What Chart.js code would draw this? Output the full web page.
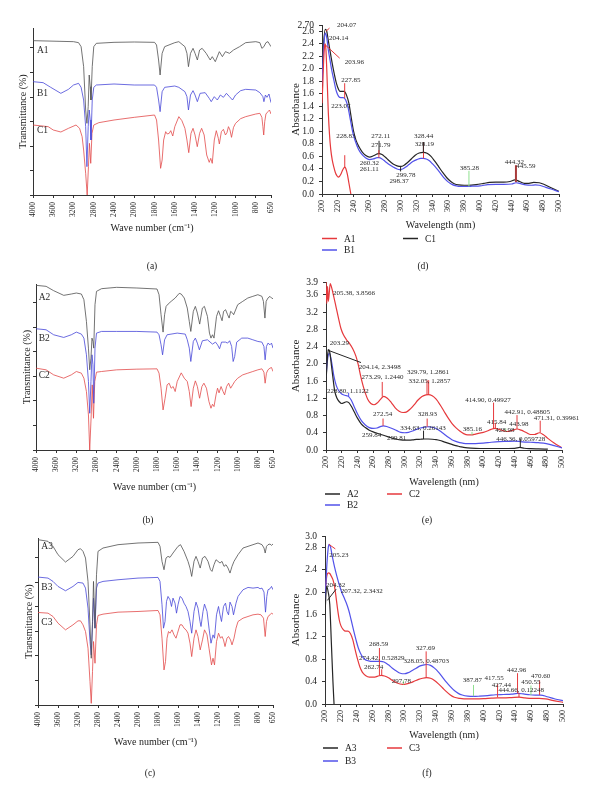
<!DOCTYPE html>
<html>
<head>
<meta charset="utf-8">
<script src="https://cdn.jsdelivr.net/npm/chart.js@4"></script>
<style>
  body { margin: 0; background: #fff; width: 600px; height: 800px; position: relative; overflow: hidden; }
  canvas { position: absolute; }
  .cap { position: absolute; font: 9.5px "Liberation Serif", serif; color: #222; transform: translate(-50%, -50%); }
</style>
</head>
<body>
<canvas id="ca" width="290" height="255" style="left:0;top:0"></canvas>
<canvas id="cd" width="310" height="258" style="left:290px;top:0"></canvas>
<canvas id="cb" width="290" height="255" style="left:0;top:255px"></canvas>
<canvas id="ce" width="310" height="255" style="left:290px;top:258px"></canvas>
<canvas id="cc" width="290" height="290" style="left:0;top:510px"></canvas>
<canvas id="cf" width="310" height="287" style="left:290px;top:513px"></canvas>
<div class="cap" style="left:152px;top:266px">(a)</div>
<div class="cap" style="left:148px;top:520px">(b)</div>
<div class="cap" style="left:150px;top:773px">(c)</div>
<div class="cap" style="left:423px;top:266px">(d)</div>
<div class="cap" style="left:427px;top:520px">(e)</div>
<div class="cap" style="left:427px;top:773px">(f)</div>
<script>
// FTIR tick labels (cm-1) and UV tick labels
const irTicks = [4000, 3600, 3200, 2800, 2400, 2000, 1800, 1600, 1400, 1200, 1000, 800, 650];
const uvTicks = [200, 220, 240, 260, 280, 300, 320, 340, 360, 380, 400, 420, 440, 460, 480, 500];
const dTicks = [0, 0.2, 0.4, 0.6, 0.8, 1.0, 1.2, 1.4, 1.6, 1.8, 2.0, 2.2, 2.4, 2.6, 2.7];
const dLabels = ['0.0', '0.2', '0.4', '0.6', '0.8', '1.0', '1.2', '1.4', '1.6', '1.8', '2.0', '2.2', '2.4', '2.6', '2.70'];
const eTicks = [0, 0.4, 0.8, 1.2, 1.6, 2.0, 2.4, 2.8, 3.2, 3.6, 3.9];
const fTicks = [0, 0.4, 0.8, 1.2, 1.6, 2.0, 2.4, 2.8, 3.0];

// FTIR spectra: [wave number, transmittance (offset %)]
const irA1 = [[4000,92.6],[3200,92],[3100,91.4],[3050,89],[3000,77],[2960,51],[2935,43],[2910,53],[2890,72],[2870,65],[2855,57],[2830,77],[2800,89],[2750,91],[2400,91.6],[2000,91.8],[1800,91.6],[1780,90],[1760,81],[1745,72],[1725,85],[1700,89],[1600,91.4],[1560,92],[1500,89],[1480,85],[1465,77],[1445,85],[1420,88],[1400,85],[1377,81],[1355,87],[1330,88],[1290,85],[1250,81],[1230,83],[1200,80],[1160,86],[1130,83],[1100,86],[1060,85],[1020,87],[960,89],[900,91.4],[800,92],[760,91.4],[740,88],[720,89],[700,91.4],[680,92],[650,89]];
const irB1 = [[4000,68],[3800,67.4],[3650,64.6],[3450,61],[3300,63.4],[3200,66],[3100,67],[3050,64.6],[3000,57],[2960,41],[2935,17],[2910,41],[2890,51],[2870,45],[2855,33],[2830,57],[2800,64.6],[2750,66],[2400,66.6],[2000,66],[1800,66],[1780,64.6],[1760,57],[1745,50],[1725,62],[1700,64.6],[1600,65.4],[1560,64.6],[1500,62],[1480,59],[1465,51],[1445,60],[1420,62.6],[1400,60],[1377,56],[1350,61],[1300,61.4],[1260,58],[1240,56],[1210,59],[1180,57],[1150,60],[1120,58.6],[1090,61],[1060,59],[1030,57],[1000,60],[950,62.6],[900,63.4],[800,63],[760,61.4],[730,59],[720,56],[705,60],[690,58.6],[670,60.6],[650,55.4]];
const irC1 = [[4000,42],[3700,41],[3600,39],[3450,37.8],[3300,40],[3150,42],[3080,40],[3030,35],[3000,27],[2960,13],[2930,0],[2905,17],[2885,31],[2860,19],[2835,37],[2800,42],[2700,43.4],[2400,45],[2000,46.6],[1800,48],[1780,45],[1760,33],[1740,16],[1725,21],[1710,33],[1690,38],[1675,36.6],[1655,37],[1640,38.6],[1620,35.4],[1600,41],[1560,47],[1530,44.6],[1500,40],[1480,33],[1462,25.4],[1440,37],[1420,40],[1400,36],[1378,29],[1355,37],[1335,40],[1310,36],[1285,24],[1260,19.6],[1245,22],[1230,19],[1210,33],[1190,38.6],[1170,34],[1160,30.6],[1140,38],[1120,39.4],[1100,36],[1085,37.4],[1070,41],[1055,39],[1040,34.6],[1020,40.6],[1000,43],[950,45.8],[900,47],[800,48.6],[760,49],[740,46.6],[730,41],[722,36],[712,44],[700,48.6],[680,50],[665,51],[650,48.6]];

const irA2 = [[4000,98.6],[3800,98],[3650,95.4],[3450,92.6],[3300,93.4],[3200,94],[3100,93.4],[3050,90],[3000,77],[2960,61],[2935,48],[2910,55],[2890,67],[2870,65],[2855,61],[2830,87],[2800,95],[2700,96.6],[2400,97.4],[2000,97],[1800,96.4],[1780,93],[1760,81],[1740,70.6],[1725,81],[1710,86],[1690,87.4],[1660,89],[1620,91],[1580,93.8],[1560,93.4],[1530,91],[1500,85],[1480,77],[1465,71],[1440,83],[1420,86],[1400,82],[1377,75.4],[1350,85],[1330,86],[1300,80],[1280,70],[1265,67],[1250,69],[1235,67],[1210,80],[1190,83.4],[1170,80],[1155,77.4],[1140,83],[1120,84],[1100,81],[1085,79],[1070,83],[1050,82],[1040,81],[1000,87],[950,89],[900,91],[850,92],[800,93],[760,92],[745,89],[730,79],[718,89],[700,91],[680,92],[665,91],[650,90.6]];
const irB2 = [[4000,72.6],[3800,72],[3650,69],[3450,67.4],[3300,69],[3200,70.6],[3100,69.4],[3050,67],[3000,57],[2960,41],[2935,22],[2910,41],[2890,57],[2870,51],[2855,28],[2830,61],[2800,70],[2700,71],[2400,71],[2000,71],[1800,70.6],[1780,69],[1760,63],[1745,57],[1725,66],[1700,69],[1600,70],[1520,69.4],[1500,66],[1480,61],[1465,53],[1440,65],[1420,67],[1400,64],[1380,60],[1350,65.4],[1300,66],[1250,63.4],[1220,64.6],[1200,63],[1180,60.6],[1160,64.6],[1120,64.6],[1100,64],[1080,65.4],[1060,62],[1045,53],[1030,56],[1010,64.6],[960,67],[900,67],[850,66],[800,65],[760,64.6],[740,62],[728,54],[715,62],[700,64],[680,63],[665,64],[650,61]];
const irC2 = [[4000,49],[3800,48],[3650,45],[3450,43],[3300,45],[3200,47],[3100,46],[3050,43],[3000,35],[2960,21],[2935,0],[2905,21],[2885,39],[2860,19],[2835,41],[2800,46.6],[2700,47],[2400,48],[2000,48.4],[1800,48.6],[1780,46],[1760,37],[1740,24],[1720,31],[1700,39],[1680,40],[1660,37],[1640,38],[1620,35],[1600,41],[1560,46.2],[1530,43],[1500,41],[1480,35],[1462,26],[1440,37],[1420,41.4],[1400,38],[1378,31],[1355,38],[1335,40],[1310,37],[1285,29],[1265,25],[1250,27.4],[1235,26],[1215,33],[1200,37],[1185,34.2],[1165,38],[1145,35],[1130,33],[1110,38],[1090,40],[1070,37],[1050,39],[1030,41],[1000,43],[950,45],[900,46],[850,47],[800,48],[760,48.6],[740,46.6],[728,40],[715,46],[700,48],[680,49],[665,49.4],[650,47]];

const irA3 = [[4000,99],[3800,98],[3700,95],[3600,90],[3450,85.6],[3300,89],[3200,93],[3150,93.6],[3100,92],[3050,88],[3000,74],[2960,48],[2935,28],[2910,50],[2890,74],[2860,46],[2830,78],[2800,92],[2700,94],[2400,96],[2000,97],[1800,97.4],[1780,95],[1760,86],[1740,81],[1720,88],[1700,89],[1680,88.4],[1650,91],[1600,95],[1575,96],[1540,92],[1500,86],[1480,82],[1463,77],[1440,86],[1420,89],[1400,86],[1378,82],[1355,88],[1330,89],[1300,86],[1275,81],[1260,80],[1240,84],[1220,87],[1200,86],[1180,85],[1160,86],[1140,83],[1120,84],[1100,82],[1080,79],[1060,83],[1040,86],[1000,90],[950,94],[900,95],[850,96],[800,97],[760,96],[740,94],[728,91],[715,95],[700,96],[680,96.4],[665,95.6],[650,96.4]];
const irB3 = [[4000,76.6],[3800,76],[3700,74],[3600,71],[3450,68.4],[3300,71],[3200,73.4],[3100,73],[3050,70],[3000,58],[2960,38],[2935,30],[2910,48],[2890,64],[2860,46],[2830,70],[2800,73],[2700,74],[2400,75],[2000,76],[1800,76.4],[1780,74],[1760,60],[1745,46],[1730,50],[1715,62],[1700,65],[1680,63],[1665,59],[1650,64],[1630,61],[1615,55],[1600,60],[1580,65],[1560,64],[1540,61],[1520,59],[1500,56],[1480,50],[1463,43],[1440,56],[1420,61.6],[1400,58],[1380,50],[1370,47],[1350,56],[1335,60.4],[1310,56],[1290,46],[1270,37],[1250,42],[1235,40],[1215,54],[1195,59],[1180,54],[1165,50],[1145,59],[1125,61],[1110,56],[1095,54],[1080,61.6],[1060,59],[1045,54],[1020,61],[1000,65],[950,69],[900,70.4],[850,70],[800,70.4],[780,69.6],[760,70],[740,67.6],[725,55.6],[712,65],[700,69],[680,69.6],[665,71],[650,69]];
const irC3 = [[4000,55.4],[3800,55],[3700,53],[3600,49],[3450,45],[3300,48],[3200,50.4],[3150,50.4],[3100,48],[3050,44],[3000,34],[2960,14],[2935,1],[2910,20],[2890,38],[2860,25],[2830,48],[2800,53.6],[2700,54.4],[2400,55.6],[2000,56],[1800,56.6],[1780,54],[1760,40],[1740,21],[1725,26],[1710,40],[1695,44],[1680,43],[1660,45],[1640,42],[1620,40],[1605,43],[1580,48],[1560,48],[1540,46],[1520,45],[1500,43],[1480,37],[1463,29],[1440,40],[1420,45],[1400,41],[1378,33],[1355,39],[1335,45],[1310,42],[1290,34],[1265,24],[1250,28],[1235,24],[1215,38],[1195,43],[1175,40],[1160,41],[1145,39],[1130,35],[1110,40],[1095,41],[1075,39],[1060,36],[1040,40],[1020,46],[1000,50],[950,52],[900,53],[850,54],[800,54.4],[770,54],[745,52],[728,41],[715,50],[700,53],[680,54],[665,55],[650,54.4]];

// UV-vis spectra: [wavelength nm, absorbance]
const uvA1 = [[200,1.45],[201,1.75],[202,2.1],[203,2.33],[204,2.4],[205,2.3],[206,2.0],[207,1.65],[208,1.3],[209.5,0.95],[211,0.72],[213,0.54],[215,0.43],[217,0.34],[219,0.29],[220.5,0.27],[222,0.28],[224,0.32],[226,0.38],[228,0.42],[229,0.43],[230,0.41],[232,0.32],[234,0.18],[236.5,0]];
const uvB1 = [[200,1.75],[202,2.3],[204,2.57],[206,2.5],[208,2.3],[210,2.15],[212,2.0],[215,1.82],[218,1.65],[221,1.56],[224,1.54],[227,1.54],[230,1.5],[233,1.38],[236,1.18],[239,0.98],[242,0.85],[246,0.72],[250,0.64],[255,0.58],[260,0.55],[265,0.56],[270,0.58],[272,0.58],[276,0.56],[280,0.52],[285,0.47],[290,0.43],[295,0.4],[298.4,0.39],[302,0.4],[306,0.43],[310,0.47],[315,0.52],[320,0.55],[325,0.57],[328.2,0.57],[332,0.56],[336,0.53],[340,0.48],[345,0.41],[350,0.33],[355,0.25],[360,0.19],[365,0.15],[370,0.13],[375,0.12],[380,0.12],[385,0.12],[390,0.125],[400,0.13],[410,0.15],[420,0.155],[430,0.155],[440,0.16],[445.6,0.18],[450,0.17],[458,0.145],[465,0.14],[470,0.145],[475,0.14],[480,0.12],[490,0.08],[500,0.035]];
const uvC1 = [[200,1.85],[202,2.4],[204.07,2.63],[206,2.6],[208,2.45],[210,2.3],[212,2.15],[215,1.95],[218,1.78],[221,1.67],[223,1.64],[226,1.64],[228,1.64],[231,1.58],[234,1.45],[237,1.22],[240,1.0],[243,0.86],[247,0.75],[251,0.67],[255,0.62],[260.3,0.59],[265,0.61],[270,0.64],[272,0.645],[276,0.63],[280,0.59],[285,0.53],[290,0.48],[295,0.45],[299.8,0.44],[304,0.46],[308,0.5],[313,0.56],[318,0.62],[323,0.655],[328.4,0.665],[333,0.65],[338,0.6],[343,0.52],[348,0.43],[353,0.34],[358,0.26],[363,0.2],[368,0.16],[373,0.145],[380,0.14],[385,0.14],[395,0.15],[405,0.17],[412,0.185],[420,0.19],[430,0.19],[438,0.2],[444.3,0.225],[450,0.2],[456,0.17],[462,0.17],[468,0.185],[475,0.18],[480,0.16],[490,0.1],[500,0.04]];

const uvA2 = [[200,1.6],[201,1.9],[202,2.2],[203.3,2.33],[205,2.25],[207,1.95],[209,1.65],[211,1.38],[214,1.2],[217,1.12],[220,1.08],[223,1.1],[226,1.12],[229,1.1],[232,1.02],[236,0.88],[240,0.74],[245,0.6],[250,0.52],[255,0.46],[260,0.42],[265,0.39],[270,0.36],[275,0.33],[280,0.3],[285,0.27],[290,0.25],[295,0.235],[300,0.23],[305,0.23],[310,0.235],[315,0.245],[320,0.25],[325,0.255],[330,0.255],[335,0.25],[340,0.24],[345,0.22],[350,0.19],[355,0.16],[360,0.13],[365,0.1],[370,0.08],[375,0.06],[380,0.05],[390,0.04],[400,0.035],[420,0.035],[440,0.04],[446.4,0.06],[452,0.04],[460,0.03],[470,0.025],[482,0.02]];
const uvB2 = [[200,1.7],[202,2.1],[204.1,2.25],[206,2.15],[208,1.95],[210,1.72],[213,1.5],[216,1.38],[220,1.3],[224,1.27],[228.8,1.24],[232,1.16],[236,1.0],[240,0.84],[245,0.68],[250,0.58],[255,0.52],[259.8,0.5],[265,0.51],[270,0.55],[273,0.56],[278,0.54],[284,0.5],[290,0.45],[295,0.41],[300,0.4],[305,0.41],[310,0.44],[315,0.48],[320,0.51],[325,0.53],[329,0.54],[334,0.53],[340,0.5],[345,0.44],[350,0.37],[355,0.3],[360,0.24],[365,0.2],[370,0.17],[375,0.155],[380,0.15],[390,0.15],[400,0.16],[410,0.18],[420,0.195],[430,0.2],[440,0.205],[445,0.2],[450,0.19],[460,0.18],[470,0.17],[480,0.15],[490,0.1],[500,0.05]];
const uvC2 = [[200,3.9],[201,3.4],[202,3.8],[203,3.45],[205.4,3.86],[207,3.78],[210,3.55],[213,3.3],[216,3.05],[219,2.82],[222,2.68],[226,2.56],[230,2.47],[234,2.35],[238,2.18],[241,1.98],[244,1.72],[247,1.5],[250,1.32],[253,1.18],[257,1.08],[261,1.05],[265,1.09],[269,1.17],[273.3,1.244],[278,1.2],[283,1.1],[288,0.98],[293,0.9],[298,0.87],[302,0.88],[307,0.95],[312,1.05],[317,1.16],[322,1.24],[327,1.28],[330,1.286],[335,1.26],[340,1.18],[345,1.05],[350,0.9],[355,0.75],[360,0.62],[365,0.52],[370,0.44],[375,0.38],[380,0.35],[385,0.35],[390,0.37],[395,0.39],[400,0.41],[405,0.44],[410,0.48],[414.9,0.5],[420,0.48],[425,0.45],[430,0.43],[436,0.45],[442.9,0.488],[448,0.46],[455,0.4],[460,0.36],[465,0.36],[471.3,0.4],[476,0.36],[482,0.27],[490,0.16],[500,0.05]];

const uvA3 = [[200,1.6],[202,2.1],[204,2.0],[206,1.78],[208,1.1],[210,0.4],[211.4,0]];
const uvB3 = [[200,1.75],[202,2.4],[204,2.78],[205.2,2.85],[207,2.8],[209,2.65],[212,2.45],[215,2.28],[218,2.13],[221,2.0],[224,1.9],[227,1.8],[230,1.67],[233,1.5],[236,1.32],[239,1.15],[242,1.0],[246,0.87],[250,0.8],[255,0.77],[260,0.76],[265,0.76],[270,0.76],[274.4,0.75],[280,0.7],[285,0.64],[290,0.59],[295,0.55],[300,0.54],[305,0.56],[310,0.6],[315,0.64],[320,0.68],[325,0.7],[328,0.705],[333,0.69],[338,0.64],[343,0.57],[348,0.48],[353,0.39],[358,0.31],[363,0.24],[368,0.19],[373,0.16],[380,0.14],[387.9,0.135],[395,0.14],[405,0.15],[415,0.165],[425,0.17],[435,0.175],[443,0.19],[450,0.18],[458,0.165],[465,0.16],[472,0.16],[480,0.13],[490,0.09],[500,0.06]];
const uvC3 = [[200,1.8],[201,2.1],[202.5,2.3],[204.3,2.34],[206,2.33],[208,2.28],[210,2.22],[212,2.1],[214,1.9],[216,1.68],[218,1.5],[220,1.4],[223,1.33],[226,1.3],[229,1.3],[232,1.26],[235,1.15],[238,0.97],[241,0.8],[244,0.66],[247,0.57],[251,0.51],[256,0.48],[262.7,0.48],[268,0.505],[271,0.51],[275,0.5],[280,0.47],[285,0.42],[290,0.38],[297.8,0.35],[303,0.36],[308,0.38],[313,0.41],[318,0.44],[323,0.46],[328,0.47],[333,0.46],[338,0.42],[343,0.36],[348,0.29],[353,0.22],[358,0.16],[363,0.12],[370,0.1],[380,0.09],[390,0.09],[400,0.095],[410,0.105],[417.5,0.11],[425,0.11],[435,0.115],[444.7,0.122],[452,0.11],[460,0.1],[470,0.1],[478,0.09],[488,0.06],[500,0.03]];

const RED = '#e6393c', BLUE = '#5252ea', BLACK = '#262626', GREEN = '#8fe08f', BROWN = '#a83a3a';
const IR_COL = ['#505050', '#4646d8', '#e24a4a'];

Chart.defaults.font.family = '"Liberation Serif", "Times New Roman", serif';
Chart.defaults.color = '#222';

// FTIR axis is compressed above 2000 cm-1
function irPos(w) { return w >= 2000 ? (4000 - w) / 400 : 5 + (2000 - w) / 200; }

// draws peak marks, peak labels and the legend keys
function extras(segs, texts, keys, xf, font) {
  return {
    id: 'extras',
    afterDatasetsDraw(chart) {
      const ctx = chart.ctx, x = chart.scales.x, y = chart.scales.y;
      const px = v => x.getPixelForValue(xf(v));
      ctx.save();
      segs.forEach(s => {
        ctx.strokeStyle = s[4];
        ctx.lineWidth = s[5] || 1;
        ctx.beginPath();
        ctx.moveTo(px(s[0]), y.getPixelForValue(s[1]));
        ctx.lineTo(px(s[2]), y.getPixelForValue(s[3]));
        ctx.stroke();
      });
      ctx.fillStyle = '#2a2a2a';
      ctx.font = font;
      ctx.textBaseline = 'middle';
      texts.forEach(t => ctx.fillText(t[2], px(t[0]), y.getPixelForValue(t[1])));
      keys.forEach((k, i) => {
        const ds = chart.data.datasets[i];
        ctx.strokeStyle = ds.borderColor;
        ctx.lineWidth = 1.5;
        ctx.beginPath();
        ctx.moveTo(k[0], k[1]);
        ctx.lineTo(k[0] + 15, k[1]);
        ctx.stroke();
        ctx.font = '9.5px "Liberation Serif", serif';
        ctx.fillStyle = '#222';
        ctx.fillText(ds.label, k[0] + 22, k[1] + 0.5);
      });
      ctx.restore();
    }
  };
}

function axis(extra) {
  return Object.assign({
    border: { display: true, color: '#333', width: 1 },
    grid: { drawOnChartArea: false, drawTicks: true, tickLength: 3, color: '#333' }
  }, extra);
}

function irChart(id, series, names, labels, box) {
  new Chart(document.getElementById(id), {
    type: 'line',
    data: {
      datasets: series.map((s, i) => ({
        label: names[i],
        data: s.map(p => ({ x: irPos(p[0]), y: p[1] })),
        borderColor: IR_COL[i], borderWidth: 0.8, pointRadius: 0, tension: 0
      }))
    },
    options: {
      responsive: false, animation: false, devicePixelRatio: 1,
      layout: { padding: { left: box.padL, top: box.padT, right: box.padR, bottom: box.padB } },
      plugins: { legend: { display: false }, tooltip: { enabled: false } },
      scales: {
        x: axis({
          type: 'linear', min: 0, max: 11.75,
          afterBuildTicks: s => { s.ticks = irTicks.map(w => ({ value: irPos(w) })); },
          afterFit: s => { s.height = box.xH; },
          ticks: { autoSkip: false, minRotation: 90, maxRotation: 90, padding: 4, font: { size: 7.5 },
                   callback: (v, i) => String(irTicks[i]) },
          title: { display: true, text: 'Wave number (cm\u207B\u00B9)', font: { size: 10 }, padding: 0 }
        }),
        y: axis({
          min: 0, max: box.yMax,
          afterBuildTicks: s => { s.ticks = [0, 14.7, 29.4, 44.1, 58.8, 73.5, 88.2].map(v => ({ value: v })); },
          afterFit: s => { s.width = box.yW; },
          ticks: { display: false },
          title: { display: true, text: 'Transmittance (%)', font: { size: 10 }, padding: 0 }
        })
      }
    },
    plugins: [extras([], labels, [], irPos, '9.5px "Liberation Serif", serif')]
  });
}

function uvChart(id, series, names, colors, yTicks, yLabels, box, segs, texts, keys) {
  new Chart(document.getElementById(id), {
    type: 'line',
    data: {
      datasets: series.map((s, i) => ({
        label: names[i],
        data: s.map(p => ({ x: p[0], y: p[1] })),
        borderColor: colors[i], borderWidth: 1.2, pointRadius: 0, cubicInterpolationMode: 'monotone'
      }))
    },
    options: {
      responsive: false, animation: false, devicePixelRatio: 1,
      layout: { padding: { left: box.padL, top: box.padT, right: box.padR, bottom: box.padB } },
      plugins: { legend: { display: false }, tooltip: { enabled: false } },
      scales: {
        x: axis({
          type: 'linear', min: 200, max: 500,
          afterBuildTicks: s => { s.ticks = uvTicks.map(v => ({ value: v })); },
          afterFit: s => { s.height = box.xH; },
          ticks: { autoSkip: false, minRotation: 90, maxRotation: 90, padding: 3, font: { size: 8 },
                   callback: (v, i) => String(uvTicks[i]) },
          title: { display: true, text: 'Wavelength (nm)', font: { size: 10 }, padding: 0 }
        }),
        y: axis({
          min: 0, max: yTicks[yTicks.length - 1],
          afterBuildTicks: s => { s.ticks = yTicks.map(v => ({ value: v })); },
          afterFit: s => { s.width = box.yW; },
          ticks: { autoSkip: false, padding: 5, font: { size: 9.5 },
                   callback: (v, i) => yLabels ? yLabels[i] : yTicks[i].toFixed(1) },
          title: { display: true, text: 'Absorbance', font: { size: 11 }, padding: 0 }
        })
      }
    },
    plugins: [extras(segs, texts, keys, v => v, '7px "Liberation Serif", serif')]
  });
}

// (a)
irChart('ca', [irA1, irB1, irC1], ['A1', 'B1', 'C1'],
  [[3921, 87, 'A1'], [3921, 61, 'B1'], [3921, 39, 'C1']],
  { padL: 17, yW: 16, padT: 28, padR: 19, xH: 39, padB: 21, yMax: 100.2 });
// (b)
irChart('cb', [irA2, irB2, irC2], ['A2', 'B2', 'C2'],
  [[3947, 91.4, 'A2'], [3947, 66.6, 'B2'], [3947, 44.6, 'C2']],
  { padL: 21, yW: 15, padT: 29, padR: 17, xH: 43, padB: 17, yMax: 99.4 });
// (c)
irChart('cc', [irA3, irB3, irC3], ['A3', 'B3', 'C3'],
  [[3933, 95, 'A3'], [3933, 70.4, 'B3'], [3933, 49.6, 'C3']],
  { padL: 23, yW: 15, padT: 28, padR: 17, xH: 43, padB: 52, yMax: 100 });

// (d)
uvChart('cd', [uvA1, uvB1, uvC1], ['A1', 'B1', 'C1'], [RED, BLUE, BLACK], dTicks, dLabels,
  { padL: 0, yW: 32, padT: 25, padR: 41, xH: 37, padB: 27 },
  [[203.5, 2.39, 222.4, 2.17, RED], [205, 2.6, 209.5, 2.65, RED], [228.7, 1.53, 228.7, 1.77, RED],
   [228.8, 0.42, 228.8, 0.62, RED], [272.2, 0.64, 272.2, 0.85, BLACK], [272, 0.58, 272, 0.7, RED],
   [299.5, 0.44, 299.5, 0.36, BLACK], [328.5, 0.57, 328.5, 0.83, RED], [328.3, 0.66, 328.3, 0.83, BLACK],
   [386, 0.12, 386, 0.37, GREEN], [445.5, 0.19, 445.5, 0.46, BROWN, 2]],
  [[219, 2.70, '204.07'], [208.9, 2.49, '204.14'], [228.7, 2.10, '203.96'], [224.5, 1.82, '227.85'],
   [211.8, 1.40, '223.07'], [218.1, 0.92, '228.83'], [262.4, 0.93, '272.11'], [262.4, 0.78, '271.79'],
   [247.7, 0.49, '260.32'], [247.7, 0.39, '261.11'], [294, 0.30, '299.78'], [285.6, 0.21, '298.37'],
   [316.5, 0.93, '328.44'], [317.3, 0.80, '328.19'], [374.3, 0.41, '385.28'], [431.2, 0.51, '444.32'],
   [446, 0.44, '445.59']],
  [[32, 238.5], [32, 250], [113, 238.5]]);

// (e)
uvChart('ce', [uvA2, uvB2, uvC2], ['A2', 'B2', 'C2'], [BLACK, BLUE, RED], eTicks, null,
  { padL: 0, yW: 36, padT: 24, padR: 38, xH: 38, padB: 25 },
  [[202, 2.32, 244.5, 2.03, BLACK], [271.5, 1.24, 271.5, 1.58, RED], [328.4, 1.28, 328.4, 1.62, RED],
   [330.5, 1.28, 330.5, 1.62, RED], [228.8, 1.24, 228.8, 1.33, BLUE], [272.5, 0.56, 272.5, 0.73, RED],
   [328.6, 0.54, 328.6, 0.73, RED], [324, 0.255, 324, 0.45, BLACK], [385.6, 0.35, 385.6, 0.42, GREEN],
   [413, 0.49, 413, 1.1, RED], [415.3, 0.5, 415.3, 0.63, RED], [428.5, 0.43, 428.5, 0.5, GREEN],
   [442.8, 0.49, 442.8, 0.81, RED], [472.3, 0.4, 472.3, 0.68, RED], [447, 0.06, 447, 0.27, BLACK]],
  [[208.9, 3.65, '205.38, 3.8566'], [204.7, 2.47, '203.29'], [241.5, 1.93, '204.14, 2.3498'],
   [245, 1.68, '273.29, 1.2440'], [303, 1.81, '329.79, 1.2861'], [305, 1.60, '332.05, 1.2857'],
   [201.3, 1.37, '228.80, 1.1122'], [259.7, 0.83, '272.54'], [316.5, 0.83, '328.93'],
   [294.5, 0.50, '334.63, 0.26143'], [245.8, 0.35, '259.84'], [277.5, 0.27, '299.81'],
   [373.7, 0.49, '385.16'], [377, 1.16, '414.90, 0.49927'], [404.7, 0.64, '415.84'],
   [415.3, 0.45, '428.98'], [427, 0.89, '442.91, 0.48805'], [433, 0.60, '443.98'],
   [464, 0.73, '471.31, 0.39961'], [416.5, 0.25, '446.36, 0.059728']],
  [[35, 236], [35, 247], [97, 236]]);

// (f)
uvChart('cf', [uvA3, uvB3, uvC3], ['A3', 'B3', 'C3'], [BLACK, BLUE, RED], fTicks, null,
  { padL: 0, yW: 35, padT: 23, padR: 37, xH: 37, padB: 59 },
  [[203, 1.85, 214, 2.05, BLACK], [205, 2.85, 213, 2.77, RED], [268.6, 0.51, 268.6, 1.0, RED],
   [327.5, 0.47, 327.5, 0.94, RED], [271.5, 0.51, 271.5, 0.62, RED], [298.9, 0.35, 298.9, 0.42, GREEN],
   [387.2, 0.14, 387.2, 0.34, GREEN], [417.5, 0.12, 417.5, 0.35, RED], [442.7, 0.19, 442.7, 0.55, RED],
   [444.5, 0.12, 444.5, 0.2, RED], [459.6, 0.16, 459.6, 0.33, GREEN], [470.5, 0.16, 470.5, 0.42, RED]],
  [[205.5, 2.66, '205.23'], [201.3, 2.12, '204.32'], [219.8, 2.02, '207.32, 2.3432'],
   [255.5, 1.06, '268.59'], [314.4, 1.0, '327.69'], [242.9, 0.81, '274.42, 0.52829'],
   [298.9, 0.76, '328.05, 0.48703'], [249.2, 0.66, '262.74'], [284.1, 0.40, '297.78'],
   [373.7, 0.42, '387.87'], [401, 0.46, '417.55'], [410.3, 0.34, '427.44'], [429.3, 0.61, '442.96'],
   [418.8, 0.255, '444.66, 0.12248'], [447.4, 0.385, '450.55'], [459.6, 0.49, '470.60']],
  [[33, 235], [33, 248], [97, 235]]);
</script>
</body>
</html>
